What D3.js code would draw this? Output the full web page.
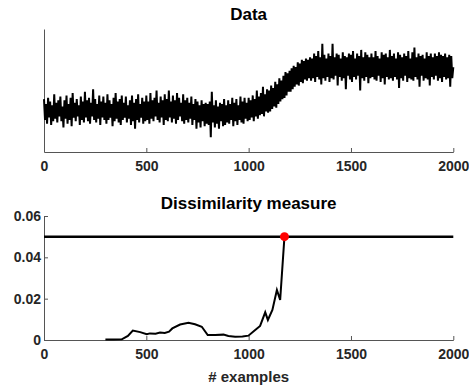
<!DOCTYPE html>
<html>
<head>
<meta charset="utf-8">
<script src="https://cdn.jsdelivr.net/npm/d3@7"></script>
<style>
  body { margin: 0; background: #fff; }
  svg { display: block; font-family: "Liberation Sans", Arial, sans-serif; }
  .tick text { font-size: 14px; font-weight: bold; fill: #262626; }
  .title { font-size: 17px; font-weight: bold; fill: #000; }
  .axis-label { font-size: 15px; font-weight: bold; fill: #262626; }
</style>
</head>
<body>
<svg width="469" height="390"></svg>
<script>
// raw signal, one reading every 5 samples (arbitrary units), 20 readings per row
const signalStep = 5;
const signal = [
  4.3, 2.6, 3.9, 2.3, 4.4, 2.8, 4.1, 2.2, 3.8, 2.5, 4.7, 2.7, 4.0, 2.4, 4.2, 2.9, 4.5, 2.5, 3.7, 2.0,
  4.2, 2.7, 4.6, 2.3, 3.9, 2.6, 4.4, 2.1, 4.8, 2.8, 4.0, 2.5, 4.3, 2.9, 3.8, 2.2, 4.5, 2.6, 4.1, 2.4,
  4.9, 2.8, 4.2, 2.5, 4.4, 2.3, 4.0, 2.9, 5.1, 2.6, 4.3, 2.4, 3.9, 2.7, 4.6, 2.2, 4.1, 2.8, 4.5, 2.6,
  4.0, 2.3, 4.7, 2.6, 4.2, 2.8, 3.9, 2.1, 4.4, 2.5, 4.8, 2.7, 4.1, 2.4, 4.3, 2.2, 4.6, 2.6, 4.0, 2.8,
  4.5, 2.4, 3.8, 2.7, 4.2, 2.2, 4.6, 2.5, 4.0, 1.9, 4.3, 2.6, 4.7, 2.4, 3.9, 2.8, 4.4, 2.3, 4.1, 2.5,
  4.6, 2.6, 4.1, 2.3, 4.8, 2.7, 4.2, 2.5, 4.4, 2.9, 5.0, 2.6, 4.0, 2.4, 4.5, 2.8, 4.2, 2.2, 4.7, 2.6,
  4.3, 2.5, 5.0, 2.8, 4.1, 2.4, 4.6, 2.7, 4.2, 2.3, 4.8, 2.6, 4.4, 2.9, 4.0, 2.5, 4.7, 2.3, 4.2, 2.6,
  4.4, 2.4, 4.0, 2.7, 4.5, 2.2, 3.9, 2.6, 4.3, 1.9, 4.1, 2.4, 3.8, 2.0, 4.2, 2.5, 3.9, 2.1, 4.0, 2.3,
  3.9, 2.2, 4.1, 1.2, 4.9, 2.4, 3.8, 2.0, 4.2, 2.3, 3.7, 1.9, 4.0, 2.5, 3.9, 2.1, 4.3, 2.2, 3.8, 2.4,
  4.2, 2.3, 3.9, 2.6, 4.4, 2.1, 4.0, 2.5, 4.3, 2.2, 3.8, 2.6, 4.5, 2.4, 4.1, 2.3, 4.4, 2.7, 4.0, 2.5,
  4.4, 2.6, 4.2, 2.8, 4.6, 2.5, 4.3, 2.9, 5.0, 2.7, 4.5, 3.0, 4.8, 3.1, 5.3, 2.9, 4.7, 3.3, 5.1, 3.2,
  5.0, 3.3, 5.4, 3.5, 5.2, 3.7, 5.7, 3.6, 5.5, 3.9, 6.0, 4.1, 5.8, 4.3, 6.2, 4.4, 6.5, 4.6, 6.4, 4.9,
  6.6, 4.9, 6.8, 5.1, 7.0, 5.3, 6.9, 5.5, 7.3, 5.4, 7.2, 5.7, 7.5, 5.6, 7.4, 5.9, 7.6, 5.8, 7.5, 6.0,
  7.7, 5.8, 7.6, 6.0, 8.0, 5.7, 7.8, 6.1, 8.2, 5.9, 7.7, 5.5, 8.8, 6.0, 7.9, 5.8, 7.6, 6.1, 8.0, 5.7,
  7.8, 6.0, 8.8, 5.9, 7.7, 6.2, 8.0, 5.4, 7.9, 6.1, 7.6, 5.8, 8.1, 6.0, 7.8, 5.1, 7.7, 6.2, 8.0, 5.9,
  7.9, 5.7, 8.2, 6.1, 7.6, 5.9, 8.0, 6.2, 7.8, 5.0, 8.3, 6.0, 7.7, 5.8, 8.1, 6.1, 7.9, 5.6, 7.7, 6.0,
  8.0, 6.1, 7.7, 5.9, 8.2, 5.8, 7.8, 6.2, 7.6, 5.7, 8.1, 6.0, 7.9, 5.5, 8.0, 6.1, 7.7, 5.9, 8.3, 6.0,
  7.8, 5.8, 8.0, 6.1, 7.6, 5.9, 8.1, 5.2, 7.9, 6.0, 7.7, 5.8, 8.0, 6.2, 7.8, 5.7, 8.2, 6.0, 7.6, 5.9,
  8.1, 5.8, 8.5, 6.1, 7.7, 5.9, 8.0, 5.3, 7.8, 6.2, 7.9, 5.8, 7.6, 6.0, 8.1, 5.9, 7.8, 5.4, 8.0, 6.1,
  7.7, 5.9, 8.0, 6.2, 7.8, 5.8, 8.1, 6.0, 7.9, 5.7, 7.8, 6.1, 8.0, 5.9, 7.7, 6.0, 7.9, 5.3, 7.8, 6.0,
  6.9
];

// dissimilarity measure
const dissX = [300, 340, 380, 410, 434, 470, 502, 518, 545, 567, 590, 611, 627, 665, 706, 738,
  771, 800, 836, 877, 901, 934, 970, 999, 1032, 1056, 1081, 1094, 1116, 1138, 1154, 1175];
const dissY = [0.0002, 0.0002, 0.0003, 0.002, 0.0046, 0.0038, 0.0028, 0.0032, 0.003, 0.0036,
  0.0034, 0.004, 0.0056, 0.0075, 0.0083, 0.0076, 0.0064, 0.0024, 0.0024, 0.0026, 0.0019,
  0.0016, 0.0017, 0.0021, 0.0048, 0.0068, 0.0134, 0.0097, 0.0145, 0.0242, 0.0194, 0.05];
const threshold = 0.05;
const detectAt = 1175;

const xTicks = [0, 500, 1000, 1500, 2000];
const yTicks = [0, 0.02, 0.04, 0.06];
const yTickLabels = ['0', '0.02', '0.04', '0.06'];

const svg = d3.select('svg');
const left = 44, right = 453.3;
const axisColor = '#555';

const styleAxis = sel => {
  sel.select('.domain').attr('stroke', axisColor);
  sel.selectAll('.tick line').attr('stroke', axisColor);
};

// ---- top: data ----
const xTop = d3.scaleLinear().domain([0, 2000]).range([left, right]);
const yTop = d3.scaleLinear().domain([0, 10]).range([152, 29]);

svg.append('g')
  .attr('transform', `translate(0,152)`)
  .call(d3.axisBottom(xTop).tickValues(xTicks).tickSize(-4).tickSizeOuter(0).tickPadding(9).tickFormat(d3.format('d')))
  .call(styleAxis);

svg.append('g')
  .attr('transform', `translate(${left},0)`)
  .call(d3.axisLeft(yTop).tickValues([]).tickSizeOuter(0))
  .call(styleAxis);

svg.append('path')
  .datum(signal)
  .attr('fill', 'none')
  .attr('stroke', '#000')
  .attr('stroke-width', 2)
  .attr('stroke-linejoin', 'bevel')
  .attr('d', d3.line().x((d, i) => xTop(i * signalStep)).y(d => yTop(d)));

svg.append('text')
  .attr('class', 'title')
  .attr('x', (left + right) / 2)
  .attr('y', 20)
  .attr('text-anchor', 'middle')
  .text('Data');

// ---- bottom: dissimilarity ----
const xBot = d3.scaleLinear().domain([0, 2000]).range([left, right]);
const yBot = d3.scaleLinear().domain([0, 0.06]).range([340, 216]);

svg.append('g')
  .attr('transform', `translate(0,340)`)
  .call(d3.axisBottom(xBot).tickValues(xTicks).tickSize(-4).tickSizeOuter(0).tickPadding(9).tickFormat(d3.format('d')))
  .call(styleAxis);

svg.append('g')
  .attr('transform', `translate(${left},0)`)
  .call(d3.axisLeft(yBot).tickValues(yTicks).tickSize(-4).tickSizeOuter(0).tickPadding(3)
    .tickFormat((d, i) => yTickLabels[i]))
  .call(styleAxis);

svg.append('line')
  .attr('x1', xBot(0)).attr('x2', xBot(2000))
  .attr('y1', yBot(threshold)).attr('y2', yBot(threshold))
  .attr('stroke', '#000')
  .attr('stroke-width', 2.5);

svg.append('path')
  .datum(dissX.map((x, i) => [x, dissY[i]]))
  .attr('fill', 'none')
  .attr('stroke', '#000')
  .attr('stroke-width', 2)
  .attr('d', d3.line().x(d => xBot(d[0])).y(d => yBot(d[1])));

svg.append('circle')
  .attr('cx', xBot(detectAt))
  .attr('cy', yBot(threshold))
  .attr('r', 4.5)
  .attr('fill', '#f00');

svg.append('text')
  .attr('class', 'title')
  .attr('x', (left + right) / 2)
  .attr('y', 209)
  .attr('text-anchor', 'middle')
  .text('Dissimilarity measure');

svg.append('text')
  .attr('class', 'axis-label')
  .attr('x', (left + right) / 2)
  .attr('y', 382)
  .attr('text-anchor', 'middle')
  .text('# examples');
</script>
</body>
</html>
